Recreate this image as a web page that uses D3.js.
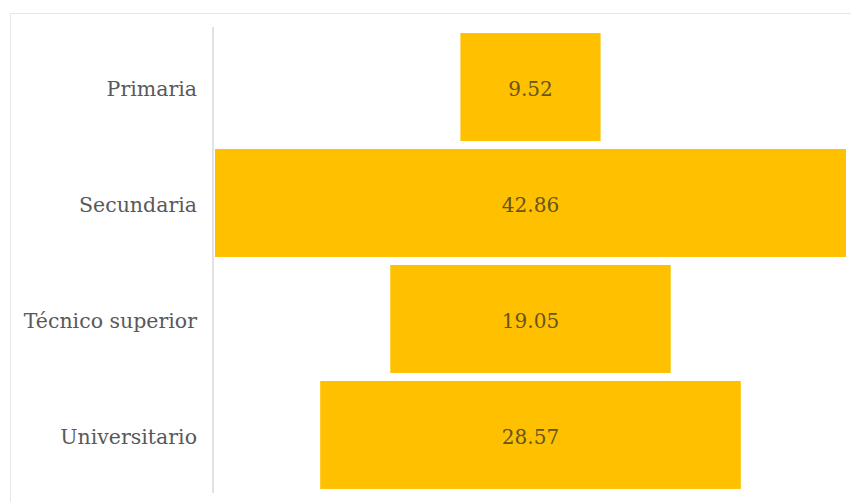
<!DOCTYPE html>
<html>
<head>
<meta charset="utf-8">
<script src="https://cdn.jsdelivr.net/npm/d3@7"></script>
<style>
  html, body { margin: 0; padding: 0; background: #fff; }
  svg { display: block; }
</style>
</head>
<body>
<svg id="chart" width="851" height="502"></svg>
<script>
// Education level distribution (%), drawn as a centered funnel
const categories = ["Primaria", "Secundaria", "Técnico superior", "Universitario"];
const values = [9.52, 42.86, 19.05, 28.57];

const svg = d3.select("#chart");
const W = 851, H = 502;

// chart frame
svg.append("rect")
  .attr("x", 10.5).attr("y", 13.5)
  .attr("width", W).attr("height", H)
  .attr("fill", "#fff")
  .attr("stroke", "#e6e6e6").attr("stroke-width", 1);

const plot = { left: 215, right: 846, top: 29, bottom: 493 };
const cx = (plot.left + plot.right) / 2;

const y = d3.scaleBand()
  .domain(categories)
  .range([plot.top, plot.bottom])
  .paddingInner(0.069)
  .paddingOuter(0.035);

const half = d3.scaleLinear()
  .domain([0, d3.max(values)])
  .range([0, (plot.right - plot.left) / 2]);

const data = categories.map((c, i) => ({ c, v: values[i] }));

svg.append("g").selectAll("rect")
  .data(data)
  .join("rect")
  .attr("x", d => cx - half(d.v))
  .attr("y", d => y(d.c))
  .attr("width", d => 2 * half(d.v))
  .attr("height", y.bandwidth())
  .attr("fill", "#FFC000");

// value labels
svg.append("g").selectAll("text")
  .data(data)
  .join("text")
  .attr("x", cx)
  .attr("y", d => y(d.c) + y.bandwidth() / 2 + 2)
  .attr("dy", "0.35em")
  .attr("text-anchor", "middle")
  .attr("font-family", "'DejaVu Serif', 'Liberation Serif', serif")
  .attr("font-size", 20)
  .attr("fill", "#655620")
  .text(d => d.v.toFixed(2));

// category axis
const axis = svg.append("g")
  .attr("transform", `translate(${plot.left - 2},0)`)
  .call(d3.axisLeft(y).tickSize(0).tickPadding(16));
axis.select(".domain").attr("stroke", "#d9d9d9").attr("stroke-width", 1.5)
  .attr("d", `M0,${plot.top - 2}V${plot.bottom}`);
axis.selectAll(".tick text")
  .attr("dy", "0.45em")
  .attr("font-family", "'DejaVu Serif', 'Liberation Serif', serif")
  .attr("font-size", 20.5)
  .attr("fill", "#595959");
</script>
</body>
</html>
